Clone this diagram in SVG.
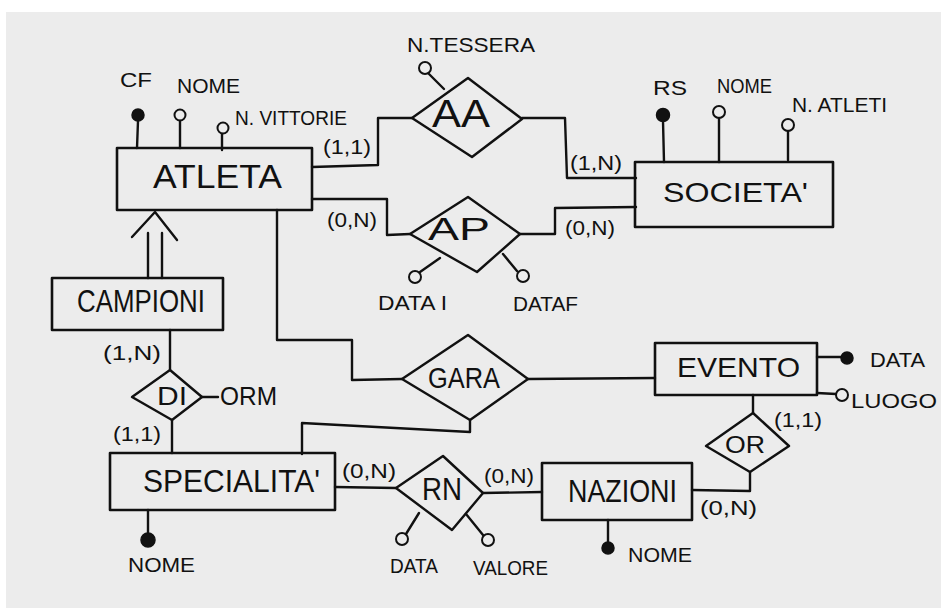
<svg xmlns="http://www.w3.org/2000/svg" width="941" height="608" viewBox="0 0 941 608">
<style>
.ln{fill:none;stroke:#111;stroke-width:2.4;stroke-linecap:round;stroke-linejoin:round}
.box{fill:none;stroke:#111;stroke-width:2.6;stroke-linejoin:round}
.dia{fill:none;stroke:#111;stroke-width:2.4;stroke-linejoin:round}
.key{fill:#111;stroke:#111;stroke-width:1.5}
.opt{fill:none;stroke:#111;stroke-width:2}
text{font-family:"Liberation Sans",Arial,sans-serif;fill:#111}
.n{font-size:32px}
.a{font-size:21px}
.c{font-size:21px}
</style>
<rect x="0" y="0" width="941" height="608" fill="#ffffff"/>
<rect x="6" y="12" width="935" height="596" fill="#ececec"/>

<g id="connectors">
  <polyline class="ln" points="312,167 378,165 378,118 412,118"/>
  <polyline class="ln" points="522,118 565,118 567,178 636,178"/>
  <polyline class="ln" points="312,199 387,199 387,235 410,234"/>
  <polyline class="ln" points="520,234 555,234 555,208 636,207"/>
  <polyline class="ln" points="277,210 277,340 352,340 352,380 402,379"/>
  <polyline class="ln" points="528,379 655,378"/>
  <polyline class="ln" points="470,420 470,432 302,423 302,454"/>
  <line class="ln" x1="148" y1="278" x2="148" y2="233"/>
  <line class="ln" x1="162" y1="278" x2="162" y2="233"/>
  <polyline class="ln" points="132,237 155,212 177,240"/>
  <line class="ln" x1="170" y1="330" x2="170" y2="370"/>
  <line class="ln" x1="172" y1="420" x2="172" y2="453"/>
  <line class="ln" x1="202" y1="397" x2="218" y2="397"/>
  <polyline class="ln" points="335,487 396,488"/>
  <polyline class="ln" points="483,493 542,492"/>
  <line class="ln" x1="753" y1="395" x2="753" y2="413"/>
  <polyline class="ln" points="750,472 750,491 692,490"/>

  <text class="c" x="323" y="154" textLength="48" lengthAdjust="spacingAndGlyphs">(1,1)</text>
  <text class="c" x="570" y="170" textLength="52" lengthAdjust="spacingAndGlyphs">(1,N)</text>
  <text class="c" x="327" y="227" textLength="50" lengthAdjust="spacingAndGlyphs">(0,N)</text>
  <text class="c" x="565" y="235" textLength="50" lengthAdjust="spacingAndGlyphs">(0,N)</text>
  <text class="c" x="103" y="360" textLength="58" lengthAdjust="spacingAndGlyphs">(1,N)</text>
  <text class="c" x="113" y="441" textLength="48" lengthAdjust="spacingAndGlyphs">(1,1)</text>
  <text class="c" x="342" y="478" textLength="54" lengthAdjust="spacingAndGlyphs">(0,N)</text>
  <text class="c" x="484" y="483" textLength="50" lengthAdjust="spacingAndGlyphs">(0,N)</text>
  <text class="c" x="774" y="427" textLength="48" lengthAdjust="spacingAndGlyphs">(1,1)</text>
  <text class="c" x="700" y="515" textLength="57" lengthAdjust="spacingAndGlyphs">(0,N)</text>
</g>

<g id="ATLETA">
  <rect class="box" x="117" y="148" width="195" height="62"/>
  <text x="153" y="188" font-size="34" textLength="129" lengthAdjust="spacingAndGlyphs">ATLETA</text>
  <line class="ln" x1="138" y1="121" x2="137" y2="148"/>
  <circle class="key" cx="138" cy="115" r="6"/>
  <text class="a" x="120" y="87" textLength="32" lengthAdjust="spacingAndGlyphs">CF</text>
  <line class="ln" x1="180" y1="121" x2="180" y2="148"/>
  <circle class="opt" cx="180" cy="115" r="5.5"/>
  <text class="a" x="177" y="93" textLength="63" lengthAdjust="spacingAndGlyphs">NOME</text>
  <line class="ln" x1="222" y1="134" x2="222" y2="150"/>
  <circle class="opt" cx="223" cy="128" r="5.5"/>
  <text class="a" x="235" y="125" textLength="112" lengthAdjust="spacingAndGlyphs">N. VITTORIE</text>
</g>

<g id="AA">
  <polygon class="dia" points="412,118 468,78 522,119 472,157"/>
  <text x="432" y="127" font-size="38" textLength="58" lengthAdjust="spacingAndGlyphs">AA</text>
  <line class="ln" x1="429" y1="74" x2="444" y2="89"/>
  <circle class="opt" cx="425" cy="68" r="6"/>
  <text class="a" x="407" y="52" textLength="128" lengthAdjust="spacingAndGlyphs">N.TESSERA</text>
</g>

<g id="SOCIETA">
  <rect class="box" x="635" y="162" width="198" height="65"/>
  <text x="663" y="202" font-size="28" textLength="145" lengthAdjust="spacingAndGlyphs">SOCIETA'</text>
  <line class="ln" x1="663" y1="121" x2="664" y2="162"/>
  <circle class="key" cx="663" cy="115" r="6.5"/>
  <text class="a" x="653" y="95" textLength="34" lengthAdjust="spacingAndGlyphs">RS</text>
  <line class="ln" x1="719" y1="118" x2="719" y2="162"/>
  <circle class="opt" cx="719" cy="112" r="6"/>
  <text class="a" x="717" y="93" textLength="55" lengthAdjust="spacingAndGlyphs">NOME</text>
  <line class="ln" x1="788" y1="131" x2="788" y2="160"/>
  <circle class="opt" cx="788" cy="125" r="6"/>
  <text class="a" x="792" y="112" textLength="95" lengthAdjust="spacingAndGlyphs">N. ATLETI</text>
</g>

<g id="AP">
  <polygon class="dia" points="410,234 468,197 520,234 477,272"/>
  <text x="428" y="240" font-size="32" textLength="62" lengthAdjust="spacingAndGlyphs">AP</text>
  <line class="ln" x1="420" y1="272" x2="440" y2="258"/>
  <circle class="opt" cx="415" cy="277" r="6"/>
  <text class="a" x="378" y="310" textLength="69" lengthAdjust="spacingAndGlyphs">DATA I</text>
  <line class="ln" x1="517" y1="271" x2="503" y2="254"/>
  <circle class="opt" cx="523" cy="276" r="6"/>
  <text class="a" x="513" y="311" textLength="65" lengthAdjust="spacingAndGlyphs">DATAF</text>
</g>

<g id="CAMPIONI">
  <rect class="box" x="52" y="278" width="171" height="52"/>
  <text x="77" y="312" font-size="32" textLength="128" lengthAdjust="spacingAndGlyphs">CAMPIONI</text>
</g>

<g id="DI">
  <polygon class="dia" points="132,397 170,370 202,397 172,420"/>
  <text x="157" y="405" font-size="25" textLength="30" lengthAdjust="spacingAndGlyphs">DI</text>
  <text x="220" y="405" font-size="25" textLength="57" lengthAdjust="spacingAndGlyphs">ORM</text>
</g>

<g id="GARA">
  <polygon class="dia" points="402,379 468,335 528,379 470,420"/>
  <text x="428" y="388" font-size="29" textLength="72" lengthAdjust="spacingAndGlyphs">GARA</text>
</g>

<g id="EVENTO">
  <rect class="box" x="655" y="343" width="162" height="52"/>
  <text x="677" y="377" font-size="28" textLength="123" lengthAdjust="spacingAndGlyphs">EVENTO</text>
  <line class="ln" x1="817" y1="357" x2="841" y2="357"/>
  <circle class="key" cx="847" cy="358" r="6"/>
  <text class="a" x="870" y="367" textLength="55" lengthAdjust="spacingAndGlyphs">DATA</text>
  <line class="ln" x1="817" y1="393" x2="836" y2="394"/>
  <circle class="opt" cx="842" cy="395" r="6"/>
  <text class="a" x="851" y="408" textLength="86" lengthAdjust="spacingAndGlyphs">LUOGO</text>
</g>

<g id="OR">
  <polygon class="dia" points="706,446 753,413 789,446 750,472"/>
  <text x="725" y="453" font-size="23" textLength="40" lengthAdjust="spacingAndGlyphs">OR</text>
</g>

<g id="SPECIALITA">
  <rect class="box" x="110" y="453" width="225" height="57"/>
  <text x="143" y="492" font-size="32" textLength="177" lengthAdjust="spacingAndGlyphs">SPECIALITA'</text>
  <line class="ln" x1="148" y1="510" x2="148" y2="533"/>
  <circle class="key" cx="148" cy="540" r="7"/>
  <text class="a" x="128" y="572" textLength="67" lengthAdjust="spacingAndGlyphs">NOME</text>
</g>

<g id="RN">
  <polygon class="dia" points="396,488 443,456 483,493 452,530"/>
  <text x="422" y="500" font-size="32" textLength="40" lengthAdjust="spacingAndGlyphs">RN</text>
  <line class="ln" x1="406" y1="534" x2="419" y2="513"/>
  <circle class="opt" cx="402" cy="539" r="6"/>
  <text class="a" x="390" y="573" textLength="48" lengthAdjust="spacingAndGlyphs">DATA</text>
  <line class="ln" x1="483" y1="535" x2="466" y2="514"/>
  <circle class="opt" cx="488" cy="540" r="6"/>
  <text class="a" x="473" y="575" textLength="75" lengthAdjust="spacingAndGlyphs">VALORE</text>
</g>

<g id="NAZIONI">
  <rect class="box" x="542" y="463" width="150" height="57"/>
  <text x="568" y="502" font-size="32" textLength="109" lengthAdjust="spacingAndGlyphs">NAZIONI</text>
  <line class="ln" x1="608" y1="520" x2="608" y2="542"/>
  <circle class="key" cx="608" cy="548" r="6"/>
  <text class="a" x="628" y="562" textLength="64" lengthAdjust="spacingAndGlyphs">NOME</text>
</g>
</svg>
